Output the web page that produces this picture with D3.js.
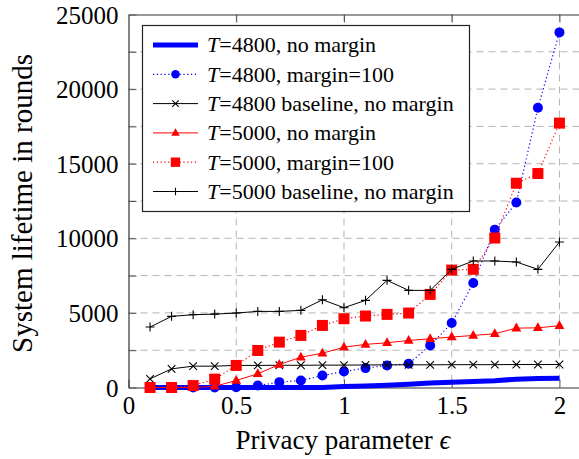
<!DOCTYPE html>
<html><head><meta charset="utf-8">
<script src="https://cdn.jsdelivr.net/npm/d3@7"></script>
<style>
html,body{margin:0;padding:0;background:#fff;}
svg{display:block;}
</style></head>
<body><svg id="chart" width="579" height="459"></svg>
<script>
const eps = [0.1,0.2,0.3,0.4,0.5,0.6,0.7,0.8,0.9,1.0,1.1,1.2,1.3,1.4,1.5,1.6,1.7,1.8,1.9,2.0];
const t4800NoMargin = [0,0,0,0,0,0,0,0,0,60,100,150,220,300,360,400,450,560,600,620];
const t4800Margin = [0,0,0,0,20,130,360,470,805,1070,1300,1480,1590,2820,4320,7000,10580,12400,18750,23800];
const t4800Base = [580,1250,1430,1430,1480,1480,1490,1490,1500,1500,1510,1520,1520,1520,1530,1530,1530,1540,1540,1540];
const t5000NoMargin = [0,0,0,80,470,920,1540,2030,2300,2700,2890,3000,3150,3270,3380,3490,3600,3980,4000,4140];
const t5000Margin = [0,0,130,560,1480,2480,3040,3490,4160,4610,4790,4900,4990,6240,7870,7920,10020,13690,14340,17720];
const t5000Base = [4050,4770,4880,4920,4990,5100,5100,5170,5880,5350,5840,7180,6510,6510,7920,8480,8480,8410,7920,9750];

const xTicks = [0,0.5,1,1.5,2];
const xTickLabels = ["0","0.5","1","1.5","2"];
const yTicks = [0,5000,10000,15000,20000,25000];
const yMinorTicks = [2500,7500,12500,17500,22500];
const seriesNames = ["=4800, no margin","=4800, margin=100","=4800 baseline, no margin","=5000, no margin","=5000, margin=100","=5000 baseline, no margin"];

const series = [
  {name: seriesNames[0], values: t4800NoMargin, color:"#0000ff", width:5, dash:null, mark:"none"},
  {name: seriesNames[1], values: t4800Margin, color:"#0000ff", width:1.2, dash:"1.2,2.6", mark:"circle"},
  {name: seriesNames[2], values: t4800Base, color:"#000", width:1, dash:null, mark:"x"},
  {name: seriesNames[3], values: t5000NoMargin, color:"#ff0000", width:1, dash:null, mark:"triangle"},
  {name: seriesNames[4], values: t5000Margin, color:"#ff0000", width:1.2, dash:"1.2,2.6", mark:"square"},
  {name: seriesNames[5], values: t5000Base, color:"#000", width:1, dash:null, mark:"plus"}
];

const FONT = '"Liberation Serif", serif';
const pLeft = 128.5, pTop = 14.5, pBottom = 387.5, pRight = 581;
const svg = d3.select("#chart");
const x = d3.scaleLinear().domain([0,2.1]).range([pLeft,pRight]);
const y = d3.scaleLinear().domain([0,25000]).range([pBottom,pTop]);

const clipId = "plotclip";
svg.append("clipPath").attr("id",clipId).append("rect")
  .attr("x",pLeft).attr("y",pTop-8).attr("width",pRight-pLeft).attr("height",pBottom-pTop+16);

// grid
const grid = svg.append("g");
const allY = yTicks.concat(yMinorTicks).filter(v=>v>0 && v<25000);
grid.selectAll("line.gy").data(allY).join("line")
  .attr("x1",pLeft).attr("x2",pRight).attr("y1",d=>y(d)).attr("y2",d=>y(d))
  .attr("stroke","#b3b3b3").attr("stroke-width",1).attr("stroke-dasharray","7,5");
grid.selectAll("line.gx").data(xTicks.filter(v=>v>0)).join("line")
  .attr("x1",d=>x(d)).attr("x2",d=>x(d)).attr("y1",pTop).attr("y2",pBottom)
  .attr("stroke","#b3b3b3").attr("stroke-width",1).attr("stroke-dasharray","7,5");

// axes
const axG = svg.append("g");
const xAxisB = d3.axisBottom(x).tickValues(xTicks).tickSizeInner(-8).tickSizeOuter(0)
  .tickFormat((d,i)=>xTickLabels[i]).tickPadding(9);
const gxb = axG.append("g").attr("transform",`translate(0,${pBottom})`).call(xAxisB);
const xAxisT = d3.axisTop(x).tickValues(xTicks.filter(v=>v>0)).tickSizeInner(-8).tickSizeOuter(0).tickFormat("");
const gxt = axG.append("g").attr("transform",`translate(0,${pTop})`).call(xAxisT);
const yAxis = d3.axisLeft(y).tickValues(yTicks.concat(yMinorTicks)).tickSizeInner(-8).tickSizeOuter(0)
  .tickFormat(d=> yTicks.includes(d) ? String(d) : "").tickPadding(10);
const gy = axG.append("g").attr("transform",`translate(${pLeft},0)`).call(yAxis);
[gxb,gxt,gy].forEach(g=>{
  g.attr("font-family",null).attr("font-size",null);
  g.select(".domain").attr("stroke","#333").attr("stroke-width",1.2);
  g.selectAll(".tick line").attr("stroke","#555").attr("stroke-width",1);
  g.selectAll("text").style("font-family",FONT).style("font-size","25px").attr("fill","#000");
});
gxb.selectAll("text").attr("dy","0.71em");
gy.selectAll("text").attr("dy","0.34em");

// series
const line = d3.line().x((d,i)=>x(eps[i])).y(d=>y(d));
const plot = svg.append("g").attr("clip-path",`url(#${clipId})`);

function drawMark(g, type, cx, cy, color, scale){
  const s = scale||1;
  if(type==="circle"){
    g.append("circle").attr("cx",cx).attr("cy",cy).attr("r",5*s).attr("fill",color);
  } else if(type==="square"){
    const h=5.5*s;
    g.append("rect").attr("x",cx-h).attr("y",cy-h).attr("width",2*h).attr("height",2*h).attr("fill",color);
  } else if(type==="triangle"){
    const h=5.5*s;
    g.append("path").attr("d",`M${cx},${cy-h}L${cx+h*0.9},${cy+h*0.6}L${cx-h*0.9},${cy+h*0.6}Z`).attr("fill",color);
  } else if(type==="x"){
    const h=3.8*s;
    g.append("path").attr("d",`M${cx-h},${cy-h}L${cx+h},${cy+h}M${cx-h},${cy+h}L${cx+h},${cy-h}`)
      .attr("stroke",color).attr("stroke-width",1.1).attr("fill","none");
  } else if(type==="plus"){
    const h=4.5*s;
    g.append("path").attr("d",`M${cx-h},${cy}L${cx+h},${cy}M${cx},${cy-h}L${cx},${cy+h}`)
      .attr("stroke",color).attr("stroke-width",1.1).attr("fill","none");
  }
}

series.forEach(s=>{
  const g = plot.append("g");
  g.append("path").datum(s.values).attr("d",line).attr("fill","none")
    .attr("stroke",s.color).attr("stroke-width",s.width)
    .attr("stroke-dasharray",s.dash).attr("stroke-linejoin","round");
  if(s.mark!=="none"){
    s.values.forEach((v,i)=>drawMark(g,s.mark,x(eps[i]),y(v),s.color));
  }
});

// legend
const lg = svg.append("g");
const lx0=142.5, ly0=25.5, lw=327, lh=186;
lg.append("rect").attr("x",lx0).attr("y",ly0).attr("width",lw).attr("height",lh)
  .attr("fill","#fff").attr("stroke","#222").attr("stroke-width",1.2);
series.forEach((s,i)=>{
  const cy = 45 + i*29.3;
  lg.append("line").attr("x1",153).attr("x2",198).attr("y1",cy).attr("y2",cy)
    .attr("stroke",s.color).attr("stroke-width",s.width).attr("stroke-dasharray",s.dash);
  if(s.mark!=="none") drawMark(lg,s.mark,175.5,cy,s.color,0.85);
  const t = lg.append("text").attr("x",207).attr("y",cy).attr("dy","0.34em")
    .style("font-family",FONT).style("font-size","22px").attr("fill","#000");
  t.append("tspan").style("font-family",FONT).style("font-style","italic").text("T");
  t.append("tspan").style("font-family",FONT).text(s.name);
});

// axis labels
const xl = svg.append("text").attr("x",343).attr("y",449).attr("text-anchor","middle")
  .style("font-family",FONT).style("font-size","27px").attr("fill","#000");
xl.append("tspan").style("font-family",FONT).text("Privacy parameter ");
xl.append("tspan").style("font-family",FONT).style("font-style","italic").text("ϵ");
svg.append("text").attr("transform","translate(32,203.5) rotate(-90)").attr("text-anchor","middle")
  .style("font-family",FONT).style("font-size","29px").attr("fill","#000").text("System lifetime in rounds");
</script></body></html>
